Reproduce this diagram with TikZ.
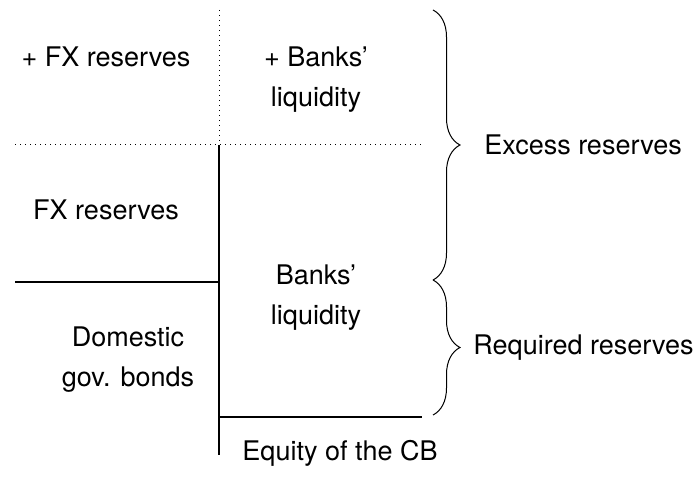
\documentclass[tikz,border=0pt]{standalone}
\usepackage{fontspec}
\setmainfont{TeX Gyre Heros}
\usetikzlibrary{decorations.pathreplacing}
\tikzstyle{lbl} = [align=center, inner sep=0pt, font=\fontsize{13.5}{20}\selectfont]
\tikzstyle{sep} = [dotted, line width=0.5pt]
\tikzstyle{acct} = [line width=1pt]
\tikzstyle{brc} = [decorate, decoration={brace, amplitude=13.5pt}, line width=0.5pt]

\begin{document}
\begin{tikzpicture}[x=0.5pt, y=-0.5pt]
			\useasboundingbox (0,0) rectangle (698,481);
			\coordinate (top) at (219,10);
			\coordinate (mid) at (219,145);
			\coordinate (bot) at (219,455);
			\coordinate (midL) at (15,145);
			\coordinate (midR) at (422,145);
			\coordinate (fxL) at (15,282);
			\coordinate (fxR) at (219,282);
			\coordinate (eqL) at (219,417);
			\coordinate (eqR) at (422,417);
			\coordinate (brA) at (433,10);
			\coordinate (brB) at (433,280);
			\coordinate (brC) at (433,415);
			\draw[sep] (top) -- (mid);
			\draw[sep] (midL) -- (midR);
			\draw[acct] (mid) -- (bot);
			\draw[acct] (fxL) -- (fxR);
			\draw[acct] (eqL) -- (eqR);
			\draw[brc] (brA) -- (brB);
			\draw[brc] (brB) -- (brC);
			\node[lbl] (fxplus) at (106,57) {+ FX reserves};
			\node[lbl] (liqplus) at (316,80) {+ Banks'\\liquidity};
			\node[lbl] (fx) at (106,210) {FX reserves};
			\node[lbl] (liq) at (316,298) {Banks'\\liquidity};
			\node[lbl] (bonds) at (128,360) {Domestic\\gov. bonds};
			\node[lbl] (equity) at (340,453) {Equity of the CB};
			\node[lbl, anchor=west] (excess) at (484,145) {Excess reserves};
			\node[lbl, anchor=west] (required) at (473,348) {Required reserves};
		\end{tikzpicture}
\end{document}
